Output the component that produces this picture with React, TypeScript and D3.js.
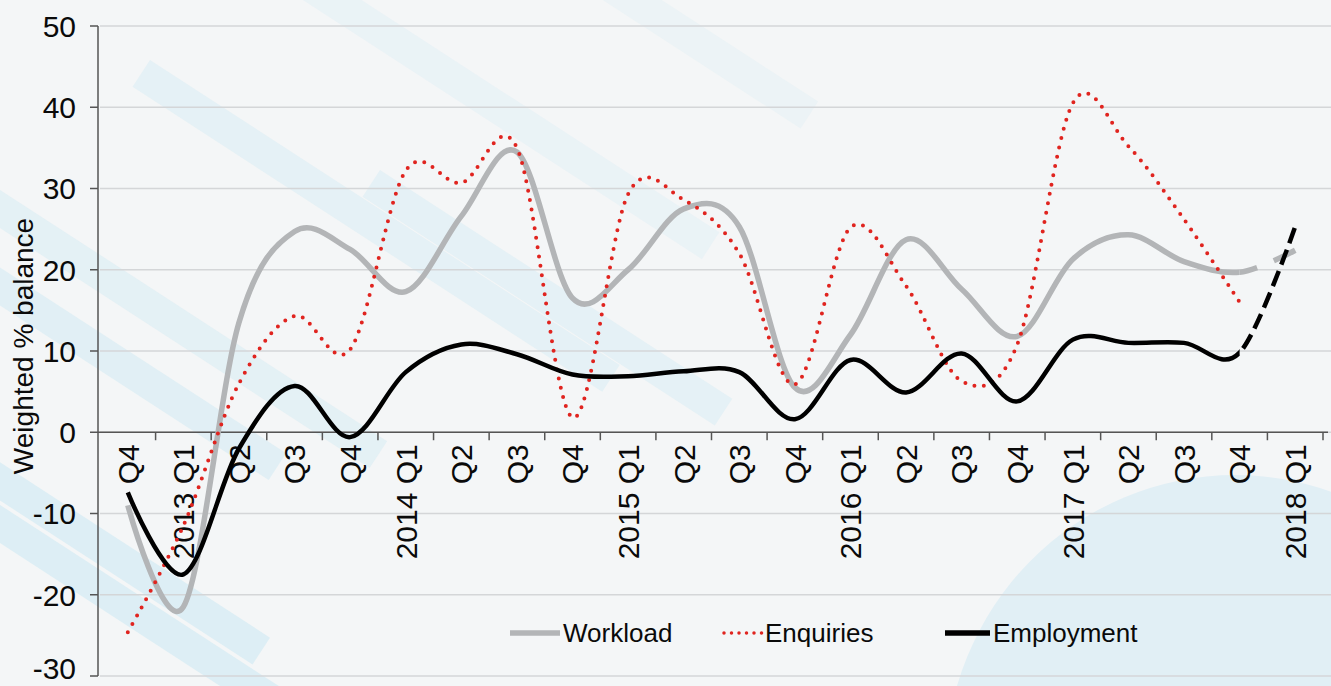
import React from "react";
import * as d3 from "d3";

const categories = ["Q4","2013 Q1","Q2","Q3","Q4","2014 Q1","Q2","Q3","Q4","2015 Q1","Q2","Q3","Q4","2016 Q1","Q2","Q3","Q4","2017 Q1","Q2","Q3","Q4","2018 Q1"];
const workload = [-9, -21.5, 13.5, 24.7, 22.5, 17.3, 26.6, 34.5, 16.5, 20, 27.5, 25.3, 5.5, 12, 23.7, 17.6, 11.8, 21.3, 24.3, 21, 19.7, 22.4];
const enquiries = [-24.6, -11.5, 6, 14.3, 10.2, 32.2, 30.7, 35, 1.8, 29.3, 28.6, 22, 5.9, 25.2, 18, 6.3, 10.8, 40.5, 35.2, 26.2, 16];
const employment = [-7.4, -17.5, -2, 5.7, -0.6, 7.4, 10.8, 9.6, 7.1, 6.9, 7.5, 7.4, 1.6, 8.9, 4.9, 9.7, 3.8, 11.4, 11, 11, 9.8, 25.3];
const yTicks = [-30, -20, -10, 0, 10, 20, 30, 40, 50];
const legendItems = ["Workload", "Enquiries", "Employment"];

const W = 1331, H = 686;
const FONT = "'Liberation Sans', Arial, sans-serif";

export default function App() {
  const x = d3.scaleBand<number>().domain(d3.range(categories.length)).range([100, 1323]);
  const y = d3.scaleLinear().domain([-30, 50]).range([676, 26]);
  const cx = (i: number) => (x(i) as number) + x.bandwidth() / 2;
  const line = d3.line<number>().x((_, i) => cx(i)).y((d) => y(d)).curve(d3.curveCardinal.tension(0));
  const lastQ = cx(categories.length - 2);

  const stripes = [
    { x: -200, y: 60, w: 700, o: 0.5 }, { x: -150, y: 170, w: 520, o: 0.6 }, { x: -250, y: 300, w: 620, o: 0.7 },
    { x: -100, y: 440, w: 560, o: 0.7 }, { x: -250, y: 560, w: 700, o: 0.8 }, { x: 150, y: 60, w: 560, o: 0.45 },
    { x: 300, y: -40, w: 500, o: 0.3 }, { x: 380, y: 170, w: 420, o: 0.45 }, { x: 600, y: -40, w: 260, o: 0.25 },
  ];

  return (
    <svg width={W} height={H} style={{ position: "absolute", left: 0, top: 0, background: "#f4f6f7" }} fontFamily={FONT}>
      <defs>
        <clipPath id="solidClip"><rect x={0} y={0} width={lastQ} height={H} /></clipPath>
        <clipPath id="dashClip"><rect x={lastQ} y={0} width={W - lastQ} height={H} /></clipPath>
      </defs>
      {/* decorative background */}
      <g>
        {stripes.map((s, i) => (
          <rect key={i} x={s.x} y={s.y} width={s.w} height={32} fill="#d3ebf4" opacity={s.o} transform={`rotate(33 ${s.x} ${s.y})`} />
        ))}
      </g>
      <ellipse cx={1235} cy={770} rx={290} ry={295} fill="#e1eff5" />
      {/* gridlines */}
      {yTicks.map((t) => (
        <line key={t} x1={100} x2={W} y1={y(t)} y2={y(t)} stroke="#d4d6d8" strokeWidth={1.5} />
      ))}
      {/* y axis */}
      <line x1={98} x2={98} y1={y(50)} y2={y(-30)} stroke="#555" strokeWidth={1.5} />
      {yTicks.map((t) => (
        <g key={"yt" + t}>
          <line x1={90} x2={98} y1={y(t)} y2={y(t)} stroke="#555" strokeWidth={1.5} />
          <text x={76} y={t === -30 ? y(t) - 8 : y(t)} dy="0.36em" textAnchor="end" fontSize={30} fill="#0a0a0a">{t}</text>
        </g>
      ))}
      <text transform={`translate(33, ${y(10) - 5}) rotate(-90)`} textAnchor="middle" fontSize={28} fill="#0a0a0a">Weighted % balance</text>
      {/* x axis */}
      <line x1={98} x2={1328} y1={y(0)} y2={y(0)} stroke="#555" strokeWidth={1.5} />
      {d3.range(1, categories.length + 1).map((i) => {
        const xx = i < categories.length ? (x(i) as number) : 1323;
        return <line key={"xt" + i} x1={xx} x2={xx} y1={y(0)} y2={y(0) + 8} stroke="#555" strokeWidth={1.5} />;
      })}
      {categories.map((c, i) => (
        <text key={"xl" + i} transform={`translate(${cx(i)}, ${y(0) + 12}) rotate(-90)`} dy="0.36em" textAnchor="end" fontSize={30} fill="#0a0a0a">{c}</text>
      ))}
      {/* series */}
      <path d={line(workload) || ""} fill="none" stroke="#b3b5b7" strokeWidth={5.5} clipPath="url(#solidClip)" />
      <path d={line(workload) || ""} fill="none" stroke="#b3b5b7" strokeWidth={5.5} strokeDasharray="24,18" clipPath="url(#dashClip)" />
      <path d={line(enquiries) || ""} fill="none" stroke="#e0241f" strokeWidth={4} strokeDasharray="0,9.5" strokeLinecap="round" />
      <path d={line(employment) || ""} fill="none" stroke="#000" strokeWidth={4.5} clipPath="url(#solidClip)" />
      <path d={line(employment) || ""} fill="none" stroke="#000" strokeWidth={4.5} strokeDasharray="16,7" clipPath="url(#dashClip)" />
      {/* legend */}
      <g fontSize={26} fill="#0a0a0a">
        <line x1={510} x2={560} y1={633} y2={633} stroke="#b3b5b7" strokeWidth={5.5} />
        <text x={563} y={633} dy="0.36em">{legendItems[0]}</text>
        <line x1={724} x2={762} y1={633} y2={633} stroke="#e0241f" strokeWidth={3.5} strokeDasharray="0,7.5" strokeLinecap="round" />
        <text x={765} y={633} dy="0.36em">{legendItems[1]}</text>
        <line x1={945} x2={990} y1={633} y2={633} stroke="#000" strokeWidth={5.5} />
        <text x={993} y={633} dy="0.36em">{legendItems[2]}</text>
      </g>
    </svg>
  );
}
